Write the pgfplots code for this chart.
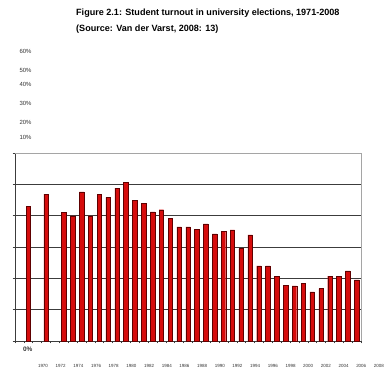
\documentclass[border=0pt]{standalone}
\usepackage{pgfplots}
\pgfplotsset{compat=1.18}
\usepackage{fontspec}
\setmainfont{Liberation Sans}
\definecolor{barfill}{RGB}{214,12,12}
\definecolor{baredge}{RGB}{95,0,0}
\definecolor{gridc}{RGB}{60,60,60}
\definecolor{boxc}{RGB}{165,165,165}
\begin{document}
\begin{tikzpicture}
\useasboundingbox (0,0) rectangle (390bp,372bp);
\begin{axis}[
  at={(15bp,31bp)}, anchor=south west,
  scale only axis, width=346bp, height=188bp,
  xmin=1969.5, xmax=2008.5, ymin=0, ymax=60,
  axis lines*=left,
  axis line style={gridc, line width=0.6pt},
  xtick={1969.5,1970.5,...,2008.5}, xticklabels={},
  ytick={0,10,...,60}, yticklabels={},
  tick align=outside, major tick length=2.5bp,
  tick style={gridc, line width=0.5pt},
  ymajorgrids, major grid style={gridc, line width=0.6pt},
  ybar, bar width=4.5bp,
  clip=false,
]
\addplot[fill=barfill, draw=baredge, line width=0.4pt] coordinates {
(1971,42.9) (1973,46.9) (1975,41.0) (1976,39.9) (1977,47.6) (1978,39.9)
(1979,46.9) (1980,45.8) (1981,48.8) (1982,50.6) (1983,45.0) (1984,44.0)
(1985,41.2) (1986,41.9) (1987,39.2) (1988,36.4) (1989,36.4) (1990,35.6)
(1991,37.4) (1992,34.2) (1993,34.9) (1994,35.5) (1995,29.5) (1996,33.9)
(1997,24.0) (1998,24.0) (1999,20.7) (2000,17.8) (2001,17.6) (2002,18.4)
(2003,15.7) (2004,16.7) (2005,20.7) (2006,20.7) (2007,22.4) (2008,19.5)
};
\draw[boxc, line width=0.6pt] (rel axis cs:0,1) -- (rel axis cs:1,1) -- (rel axis cs:1,0);
\end{axis}
% title
\node[anchor=west, font=\bfseries\fontsize{9.1}{10}\selectfont, inner sep=0] at (76bp,358.5bp) {Figure 2.1: Student turnout in university elections, 1971-2008};
\node[anchor=west, font=\bfseries\fontsize{9.1}{10}\selectfont, inner sep=0] at (76bp,342.5bp) {(Source: Van der Varst, 2008: 13)};
% y labels (displaced as in the source)
\foreach \lab/\py in {60/51.7, 50/70, 40/84.3, 30/103.3, 20/122.3, 10/137.3} {
  \node[font=\fontsize{6}{7}\selectfont, inner sep=0, text=black!80] at (25.5bp,{(372-\py)*1bp}) {\lab\%};
}
\node[font=\bfseries\fontsize{6.5}{7}\selectfont, inner sep=0, text=black!80] at (27.7bp,23bp) {0\%};
% x labels (displaced as in the source)
\foreach \yr [count=\i from 0] in {1970,1972,...,2008} {
  \node[font=\fontsize{4.5}{5}\selectfont, inner sep=0, text=black!80] at ({(43+17.68*\i)*1bp},6bp) {\yr};
}
\end{tikzpicture}
\end{document}
